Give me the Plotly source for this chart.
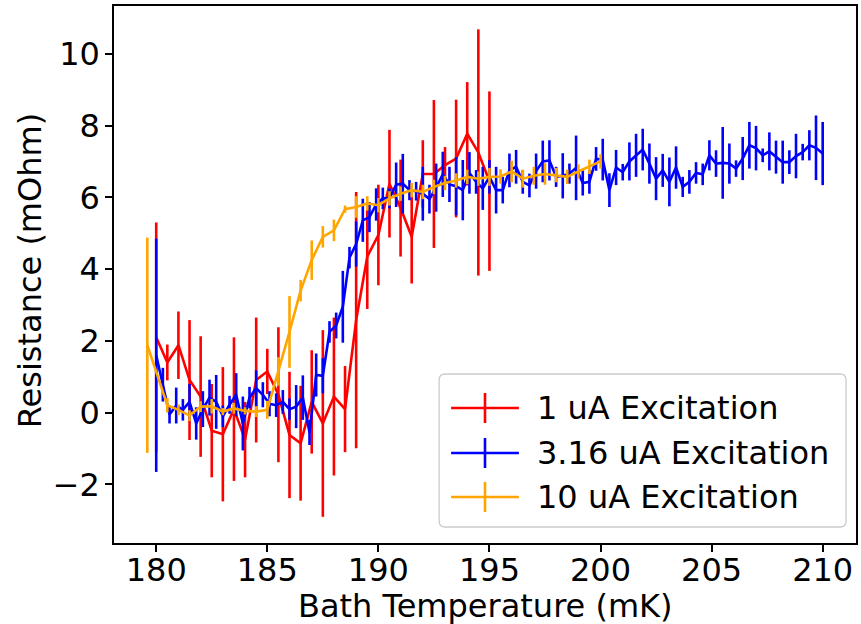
import plotly.graph_objects as go

# ---------------- data ----------------
red_T = [180.0, 180.5, 181.0, 181.5, 182.0, 182.5, 183.0, 183.5, 184.0, 184.5,
         185.0, 185.5, 186.0, 186.5, 187.0, 187.5, 188.0, 188.5, 189.0, 189.5,
         190.0, 190.5, 191.0, 191.5, 192.0, 192.5, 193.0, 193.5, 194.0, 194.5, 195.0]
red_R = [2.10, 1.40, 1.88, 0.91, 0.45, -0.50, -0.60, 0.10, -0.75, 0.91,
         1.15, 0.50, -0.62, -0.85, 0.30, -0.30, 0.45, 0.10, 2.58, 4.35,
         4.95, 6.38, 5.70, 4.90, 6.65, 6.65, 6.90, 7.08, 7.77, 7.25, 6.45]
red_E = [3.20, 0.50, 0.94, 1.67, 1.68, 1.30, 1.87, 2.00, 1.05, 1.74,
         0.63, 1.88, 1.76, 1.60, 1.44, 2.60, 2.20, 1.20, 3.57, 1.46,
         1.40, 1.50, 1.35, 1.30, 0.94, 2.06, 0.50, 1.64, 1.44, 3.43, 2.50]

blue_T = [180.0, 180.3, 180.6, 180.9, 181.2, 181.5, 181.8, 182.1, 182.4, 182.7,
          183.0, 183.3, 183.6, 183.9, 184.2, 184.5, 184.8, 185.1, 185.4, 185.7,
          186.0, 186.3, 186.6, 186.9, 187.2, 187.5, 187.8, 188.1, 188.4, 188.7,
          189.0, 189.3, 189.6, 189.9, 190.2, 190.5, 190.8, 191.1, 191.4, 191.7,
          192.0, 192.3, 192.6, 192.9, 193.2, 193.5, 193.8, 194.1, 194.4, 194.7,
          195.0, 195.3, 195.6, 195.9, 196.2, 196.5, 196.8, 197.1, 197.4, 197.7,
          198.0, 198.3, 198.6, 198.9, 199.2, 199.5, 199.8, 200.1, 200.4, 200.7,
          201.0, 201.3, 201.6, 201.9, 202.2, 202.5, 202.8, 203.1, 203.4, 203.7,
          204.0, 204.3, 204.6, 204.9, 205.2, 205.5, 205.8, 206.1, 206.4, 206.7,
          207.0, 207.3, 207.6, 207.9, 208.2, 208.5, 208.8, 209.1, 209.4, 209.7,
          210.0]
blue_R = [1.60, 0.78, -0.05, 0.20, 0.08, 0.30, -0.30, 0.10, 0.42, 0.30,
          -0.10, 0.22, 0.50, -0.30, 0.42, 0.68, 0.50, 0.25, 0.21, 0.30,
          0.10, 0.17, 0.42, -0.55, 1.05, 1.03, 2.25, 2.43, 2.95, 4.32,
          4.70, 5.36, 5.45, 5.80, 5.97, 5.97, 6.35, 6.38, 6.20, 6.17,
          6.10, 5.95, 6.27, 6.64, 6.36, 6.31, 6.20, 6.68, 6.43, 6.25,
          6.57, 6.20, 6.20, 6.75, 6.85, 6.43, 6.33, 6.73, 7.00, 7.03,
          6.57, 6.60, 6.66, 6.82, 6.40, 6.43, 7.07, 7.05, 6.20, 6.83,
          6.70, 7.00, 7.17, 7.33, 6.94, 6.52, 6.75, 6.43, 6.83, 6.29,
          6.43, 6.68, 6.64, 7.17, 6.94, 6.96, 6.94, 6.80, 7.08, 7.45,
          7.37, 7.17, 7.28, 7.12, 6.98, 6.98, 7.15, 7.26, 7.45, 7.38,
          7.22]
blue_E = [3.25, 0.47, 0.25, 0.50, 0.30, 0.50, 0.45, 0.50, 0.50, 0.75,
          0.30, 0.25, 0.60, 0.75, 0.30, 0.50, 0.35, 0.35, 0.33, 0.33,
          0.30, 0.60, 0.62, 0.35, 0.60, 0.49, 0.30, 0.36, 1.00, 0.30,
          0.63, 0.60, 0.42, 0.45, 0.30, 0.28, 0.62, 0.83, 0.28, 0.26,
          0.75, 0.40, 0.67, 0.63, 0.49, 0.81, 0.84, 0.58, 0.33, 0.60,
          0.47, 0.65, 0.37, 0.47, 0.47, 0.33, 0.33, 0.49, 0.58, 0.56,
          0.28, 0.63, 0.28, 0.90, 0.35, 0.33, 0.33, 0.58, 0.47, 0.49,
          0.23, 0.53, 0.60, 0.58, 0.56, 0.60, 0.46, 0.68, 0.59, 0.28,
          0.33, 0.30, 0.30, 0.42, 0.37, 1.00, 0.56, 0.23, 0.60, 0.65,
          0.62, 0.19, 0.53, 0.46, 0.60, 0.33, 0.62, 0.23, 0.42, 0.90,
          0.88]

orange_T = [179.6, 180.5, 181.0, 181.5, 182.0, 182.5, 183.0, 183.5, 184.0, 184.5,
            185.0, 185.5, 186.0, 186.5, 187.0, 187.5, 188.0, 188.5, 189.0, 189.5,
            190.0, 190.5, 191.0, 191.5, 192.0, 192.5, 193.0, 193.5, 194.0, 194.5,
            195.0, 195.5, 196.0, 196.5, 197.0, 197.5, 198.0, 198.5, 199.0, 199.5,
            200.0]
orange_R = [1.88, 0.21, 0.08, -0.08, 0.17, 0.18, 0.03, 0.12, 0.05, 0.03,
            0.08, 1.15, 2.25, 3.40, 4.25, 4.90, 5.08, 5.67, 5.73, 5.83,
            5.78, 5.97, 6.10, 6.20, 6.15, 6.29, 6.40, 6.47, 6.57, 6.52,
            6.57, 6.58, 6.72, 6.52, 6.60, 6.65, 6.62, 6.57, 6.72, 6.85,
            7.00]
orange_E = [3.00, 0.20, 0.15, 0.15, 0.15, 0.20, 0.10, 0.15, 0.10, 0.15,
            0.25, 0.40, 1.00, 0.30, 0.55, 0.30, 0.30, 0.10, 0.30, 0.20,
            0.20, 0.20, 0.20, 0.20, 0.20, 0.20, 0.20, 0.20, 0.20, 0.20,
            0.25, 0.20, 0.30, 0.25, 0.25, 0.30, 0.20, 0.20, 0.20, 0.20,
            0.20]

series_names = ["1 uA Excitation", "3.16 uA Excitation", "10 uA Excitation"]
series_colors = ["#ff0000", "#0000ff", "#ffa500"]

x_ticks = [180, 185, 190, 195, 200, 205, 210]
y_ticks = [-2, 0, 2, 4, 6, 8, 10]
y_ticktext = ["\u22122", "0", "2", "4", "6", "8", "10"]

# ---------------- figure ----------------
W, H = 861, 624
ML, MR, MT, MB = 114, 3, 6, 81
PW, PH = W - ML - MR, H - MT - MB
LW = 2.6
FONT = "DejaVu Sans"
FS = 32


def px_x(p):
    return (p - ML) / PW


def px_y(p):
    return (H - MB - p) / PH


fig = go.Figure()
data = [(red_T, red_R, red_E), (blue_T, blue_R, blue_E), (orange_T, orange_R, orange_E)]
for (t, r, e), name, col in zip(data, series_names, series_colors):
    fig.add_trace(go.Scatter(
        x=t, y=r, mode="lines", name=name, showlegend=False,
        line=dict(color=col, width=LW),
        error_y=dict(type="data", array=e, visible=True, color=col,
                     thickness=LW, width=0),
    ))

axis_common = dict(showgrid=False, zeroline=False, showline=True, mirror=True,
                   linecolor="black", linewidth=1.5, ticks="outside",
                   ticklen=7, tickwidth=1.5, tickcolor="black",
                   tickfont=dict(family=FONT, size=FS, color="black"))

fig.update_layout(
    width=W, height=H,
    margin=dict(l=ML, r=MR, t=MT, b=MB, pad=0),
    paper_bgcolor="white", plot_bgcolor="white",
    xaxis=dict(range=[178.1, 211.5], tickvals=x_ticks,
               ticktext=[str(v) for v in x_ticks], ticklabelstandoff=-9,
               **axis_common),
    yaxis=dict(range=[-3.63, 11.33], tickvals=y_ticks, ticktext=y_ticktext,
               ticklabelstandoff=-1, **axis_common),
)

# axis titles
fig.add_annotation(text="Bath Temperature (mK)", xref="paper", yref="paper",
                   x=0.5, y=px_y(606), xanchor="center", yanchor="middle",
                   showarrow=False, font=dict(family=FONT, size=FS, color="black"))
fig.add_annotation(text="Resistance (mOhm)", xref="paper", yref="paper",
                   x=px_x(30), y=px_y(271), xanchor="center", yanchor="middle",
                   textangle=-90, showarrow=False,
                   font=dict(family=FONT, size=FS, color="black"))

# legend box (rounded)
lx0, lx1, ly0, ly1 = px_x(440), px_x(848), px_y(527), px_y(374)
rx, ry = 6 / PW, 6 / PH
path = (f"M {lx0+rx},{ly0} L {lx1-rx},{ly0} Q {lx1},{ly0} {lx1},{ly0+ry} "
        f"L {lx1},{ly1-ry} Q {lx1},{ly1} {lx1-rx},{ly1} L {lx0+rx},{ly1} "
        f"Q {lx0},{ly1} {lx0},{ly1-ry} L {lx0},{ly0+ry} Q {lx0},{ly0} {lx0+rx},{ly0} Z")
fig.add_shape(type="path", path=path, xref="paper", yref="paper",
              fillcolor="rgba(255,255,255,0.8)", line=dict(color="#cccccc", width=1.3))

entry_y = [408, 453, 497]
for name, col, ey in zip(series_names, series_colors, entry_y):
    fig.add_shape(type="line", xref="paper", yref="paper",
                  x0=px_x(452), x1=px_x(520), y0=px_y(ey), y1=px_y(ey),
                  line=dict(color=col, width=LW))
    fig.add_shape(type="line", xref="paper", yref="paper",
                  x0=px_x(486), x1=px_x(486), y0=px_y(ey - 15), y1=px_y(ey + 15),
                  line=dict(color=col, width=LW))
    fig.add_annotation(text=name, xref="paper", yref="paper",
                       x=px_x(536), y=px_y(ey), xanchor="left", yanchor="middle",
                       showarrow=False,
                       font=dict(family=FONT, size=FS, color="black"))

fig.write_html("out.html")
